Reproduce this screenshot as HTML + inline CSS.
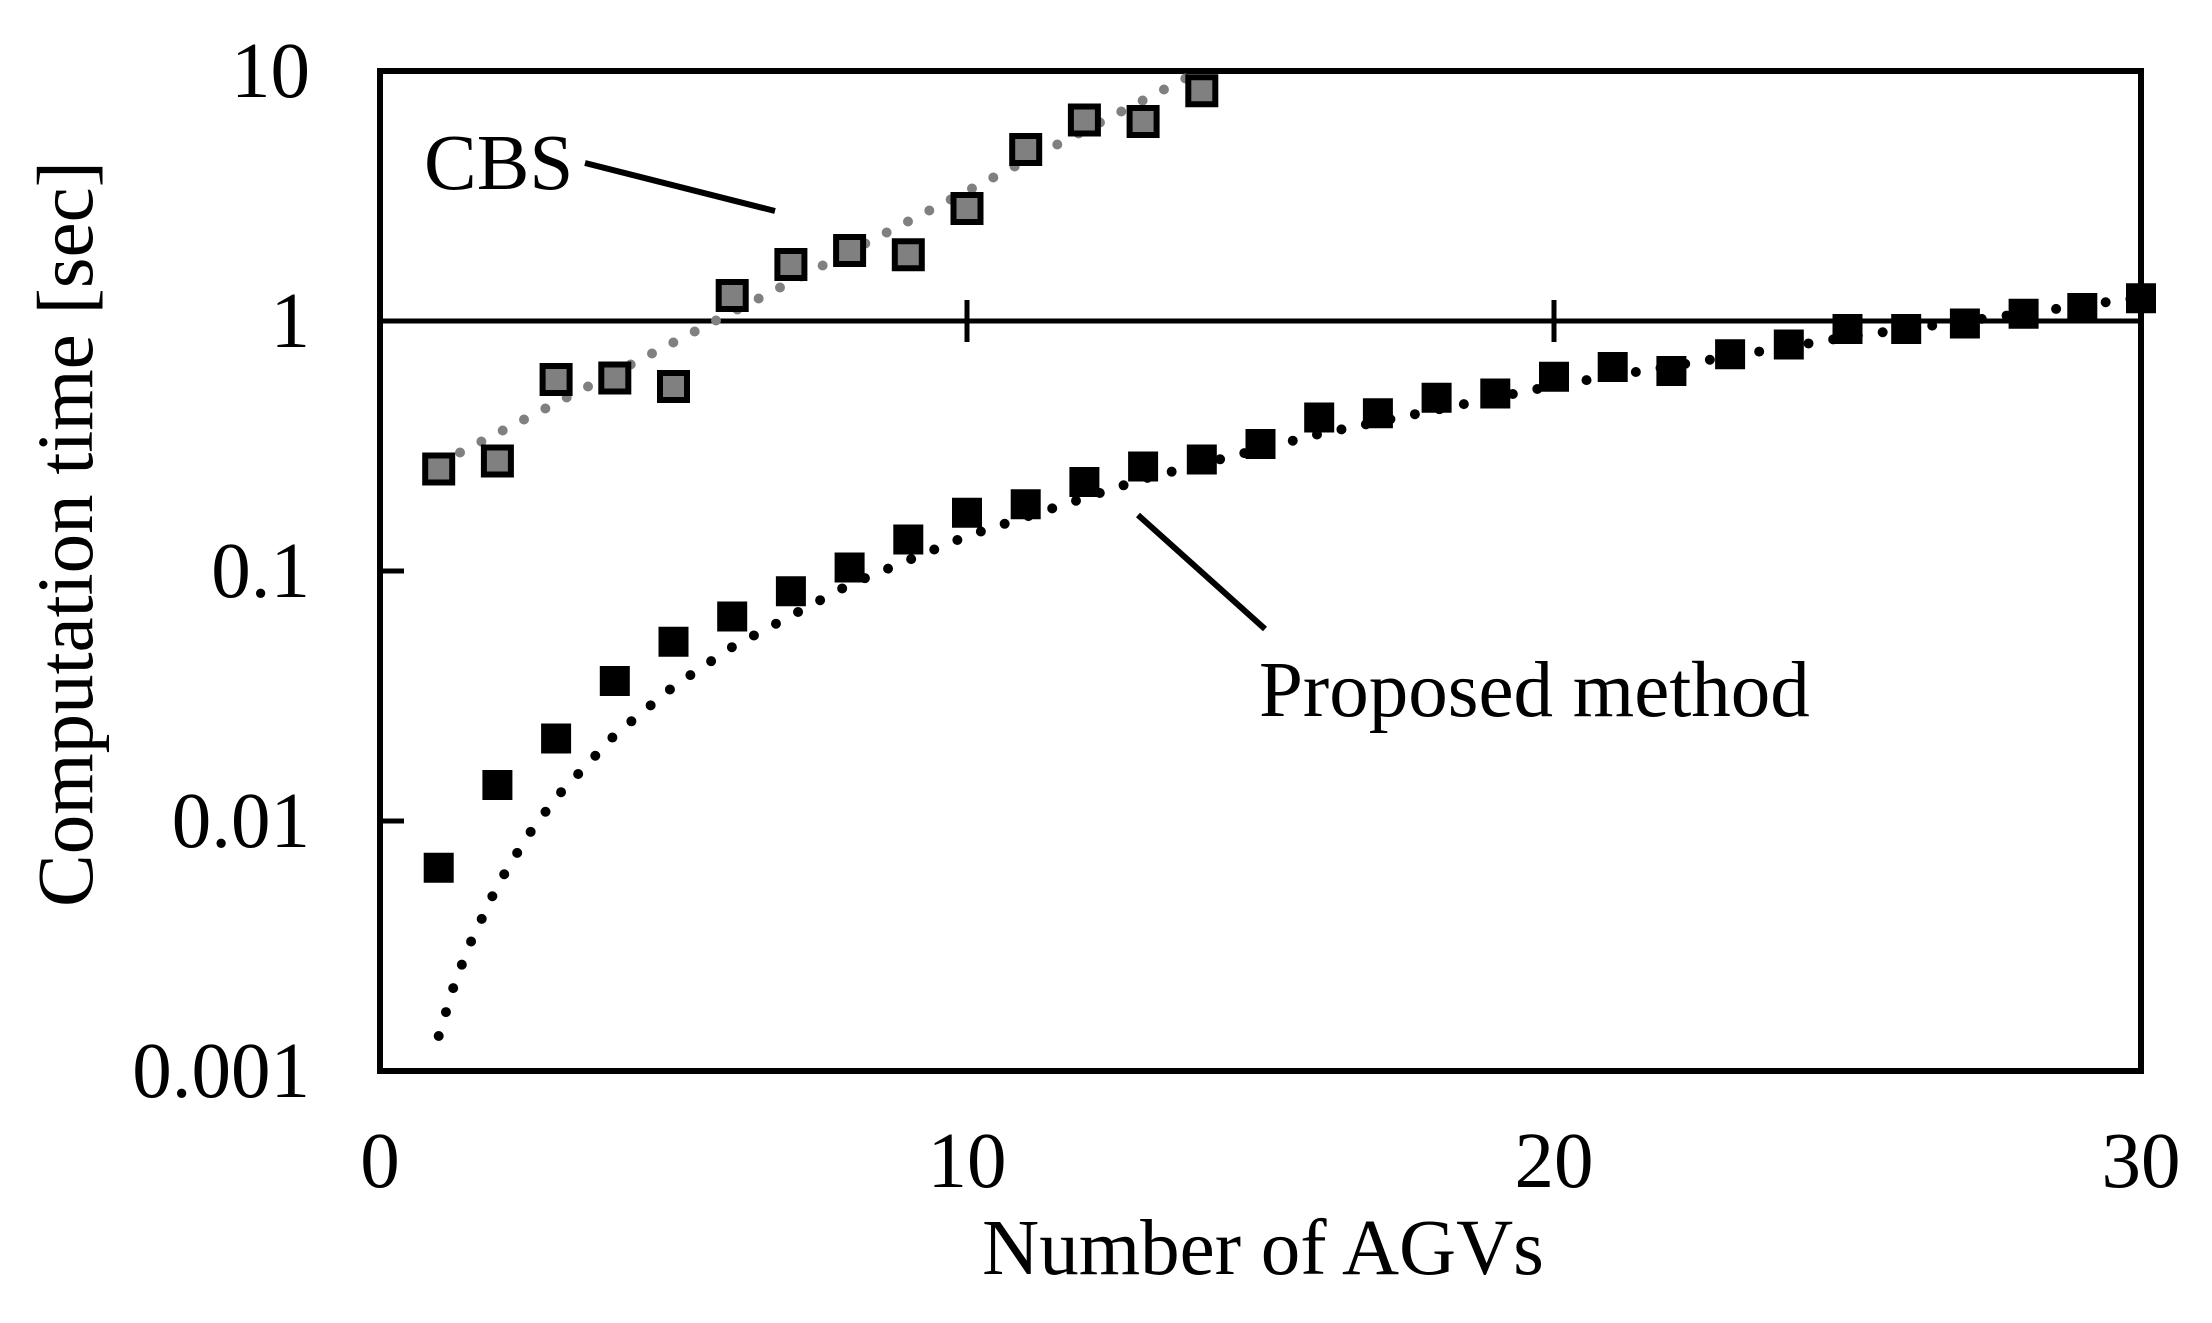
<!DOCTYPE html>
<html><head><meta charset="utf-8"><style>
html,body{margin:0;padding:0;background:#fff;}
svg{display:block;}
text{font-family:"Liberation Serif",serif;fill:#000;}
</style></head><body>
<svg width="2212" height="1323" viewBox="0 0 2212 1323" xmlns="http://www.w3.org/2000/svg">
<defs>
<rect id="g" x="-13.5" y="-13.5" width="27" height="27" fill="#808080" stroke="#000" stroke-width="6"/>
<rect id="b" x="-15" y="-15" width="30" height="30" fill="#000"/>
</defs>
<rect x="380" y="71" width="1761" height="1000" fill="none" stroke="#000" stroke-width="6"/>
<line x1="380" y1="321" x2="2141" y2="321" stroke="#000" stroke-width="5"/>
<line x1="967" y1="300" x2="967" y2="342" stroke="#000" stroke-width="5"/>
<line x1="1554" y1="300" x2="1554" y2="342" stroke="#000" stroke-width="5"/>
<line x1="380" y1="571" x2="404" y2="571" stroke="#000" stroke-width="5"/>
<line x1="380" y1="821" x2="404" y2="821" stroke="#000" stroke-width="5"/>
<g font-size="79" text-anchor="end">
<text x="310" y="97">10</text>
<text x="310" y="347">1</text>
<text x="310" y="597">0.1</text>
<text x="310" y="847">0.01</text>
<text x="310" y="1097">0.001</text>
</g>
<g font-size="79" text-anchor="middle">
<text x="380" y="1187">0</text>
<text x="967" y="1187">10</text>
<text x="1554" y="1187">20</text>
<text x="2141" y="1187">30</text>
<text x="1263" y="1274">Number of AGVs</text>
</g>
<text font-size="79" text-anchor="middle" transform="translate(92,534) rotate(-90)">Computation time [sec]</text>
<polyline fill="none" stroke="#808080" stroke-width="10" stroke-linecap="round" stroke-dasharray="0 24" points="438.7,463.5 1201.8,70"/>
<polyline fill="none" stroke="#000" stroke-width="10" stroke-linecap="round" stroke-dasharray="0 25" points="438.7,1036 453.4,987.5 468,948 497.4,885.5 526.8,837 556.1,797.5 614.8,735 673.5,686.5 732.2,647 849.6,584.5 967,536 1143,479 1319,434 1554,385.5 1847.5,337 2141,297.5"/>
<use href="#g" x="438.7" y="469"/><use href="#g" x="497.4" y="461"/><use href="#g" x="556.1" y="379.5"/>
<use href="#g" x="614.8" y="378"/><use href="#g" x="673.5" y="386.5"/><use href="#g" x="732.2" y="295.5"/>
<use href="#g" x="790.9" y="264.5"/><use href="#g" x="849.6" y="250.5"/><use href="#g" x="908.3" y="254.75"/>
<use href="#g" x="967" y="208.5"/><use href="#g" x="1025.7" y="149.5"/><use href="#g" x="1084.4" y="120"/>
<use href="#g" x="1143.1" y="121.5"/><use href="#g" x="1201.8" y="90.75"/>
<use href="#b" x="438.7" y="867.75"/><use href="#b" x="497.4" y="785"/><use href="#b" x="556.1" y="738.5"/>
<use href="#b" x="614.8" y="681"/><use href="#b" x="673.5" y="641.75"/><use href="#b" x="732.2" y="616.5"/>
<use href="#b" x="790.9" y="591.25"/><use href="#b" x="849.6" y="567.5"/><use href="#b" x="908.3" y="539.5"/>
<use href="#b" x="967" y="512.75"/><use href="#b" x="1025.7" y="504.25"/><use href="#b" x="1084.4" y="482"/>
<use href="#b" x="1143.1" y="466.5"/><use href="#b" x="1201.8" y="459.5"/><use href="#b" x="1260.5" y="444"/>
<use href="#b" x="1319.2" y="417.5"/><use href="#b" x="1377.9" y="413.25"/><use href="#b" x="1436.6" y="397.75"/>
<use href="#b" x="1495.3" y="393.5"/><use href="#b" x="1554" y="376.75"/><use href="#b" x="1612.7" y="367"/>
<use href="#b" x="1671.4" y="371"/><use href="#b" x="1730.1" y="354.25"/><use href="#b" x="1788.8" y="344.5"/>
<use href="#b" x="1847.5" y="329"/><use href="#b" x="1906.2" y="329"/><use href="#b" x="1964.9" y="323.5"/>
<use href="#b" x="2023.6" y="313.75"/><use href="#b" x="2082.3" y="308"/><use href="#b" x="2141" y="298.25"/>
<text x="424" y="189" font-size="79">CBS</text>
<line x1="585" y1="163" x2="775" y2="211" stroke="#000" stroke-width="6"/>
<text x="1259" y="716" font-size="79">Proposed method</text>
<line x1="1138" y1="515" x2="1265" y2="629" stroke="#000" stroke-width="6"/>
</svg>
</body></html>
